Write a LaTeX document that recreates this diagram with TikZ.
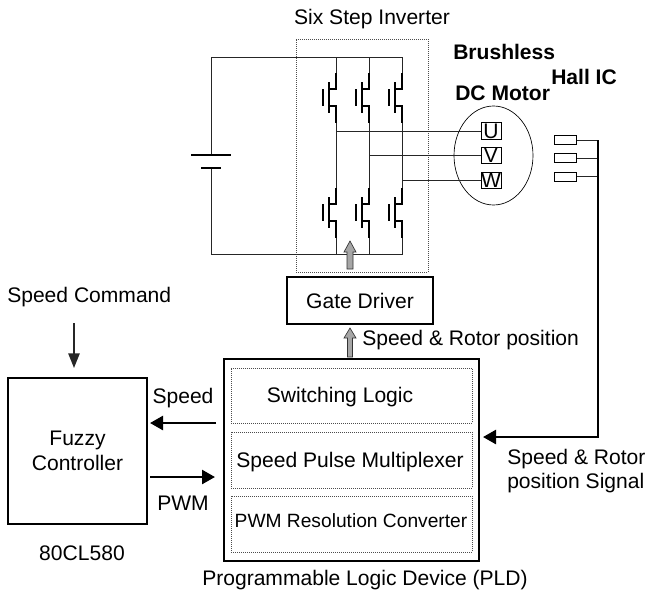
\documentclass[tikz,border=0pt]{standalone}
\usepackage{fontspec}
\setmainfont{Liberation Sans}
\usetikzlibrary{arrows}
\usetikzlibrary{arrows.meta}
\usetikzlibrary{positioning}
\usetikzlibrary{shapes.geometric}
\begin{document}
\begin{tikzpicture}[
		x=0.75pt,
		y=-0.75pt,
		>=stealth',
		wire/.style={line width=0.75pt,draw=black!85},
		main label/.style={font=\fontsize{15.8}{18}\selectfont,inner sep=0pt},
		bold label/.style={main label,font=\fontsize{15.8}{18}\selectfont\bfseries},
		solid box/.style={draw,line width=1.2pt,inner sep=0pt,align=center},
		dotted box/.style={draw=black!70,densely dotted,line width=0.5pt,inner sep=0pt},
		letter box/.style={draw,line width=0.75pt,minimum width=15pt,minimum height=12.5pt,inner sep=0pt,font=\fontsize{15.8}{18}\selectfont},
		hall box/.style={draw,line width=0.75pt,minimum width=16.5pt,minimum height=6.75pt,inner sep=0pt},
		thick arrow/.style={-{Triangle[length=9.75pt,width=10.5pt]},line width=1.9pt},
		switch line/.style={line width=1.5pt},
		gray arrow/.style={draw=black!80,fill=black!35,line width=0.5pt}
		]
		\useasboundingbox (0,0) rectangle (646,593);

		% boxes
		\node[dotted box,minimum width=99pt,minimum height=174.75pt] (inverter) at (362,155.5) {};
		\node[solid box,minimum width=109.5pt,minimum height=35.25pt,font=\fontsize{15.8}{18}\selectfont] (driver) at (360,300.5) {Gate Driver};
		\node[solid box,minimum width=191.25pt,minimum height=151.5pt] (pld) at (351.5,460) {};
		\node[solid box,minimum width=104.25pt,minimum height=109.5pt,font=\fontsize{15.8}{18.75}\selectfont] (fuzzy) at (77.5,451) {Fuzzy\\Controller};
		\node[dotted box,minimum width=180.75pt,minimum height=41.25pt] (logic) at (351.5,395.5) {};
		\node[dotted box,minimum width=180.75pt,minimum height=42pt] (mux) at (351.5,460) {};
		\node[dotted box,minimum width=180.75pt,minimum height=42pt] (conv) at (351.5,524) {};

		% texts
		\node[main label] (tinv) at (372,19) {Six Step Inverter};
		\node[bold label,anchor=west] (tbrush) at (453,52) {Brushless};
		\node[bold label,anchor=west] (thall) at (551,77) {Hall IC};
		\node[bold label,anchor=west] (tdc) at (455,93) {DC Motor};
		\node[main label,anchor=west] (tcmd) at (7,297) {Speed Command};
		\node[main label] (tchip) at (82,553) {80CL580};
		\node[main label] (tspeed) at (183,398) {Speed};
		\node[main label] (tpwm) at (183,503) {PWM};
		\node[main label] (tlogic) at (340,397) {Switching Logic};
		\node[main label] (tmux) at (350,462) {Speed Pulse Multiplexer};
		\node[main label,font=\fontsize{14.4}{18}\selectfont] (tconv) at (351,521) {PWM Resolution Converter};
		\node[main label] (tpld) at (365,580) {Programmable Logic Device (PLD)};
		\node[main label,anchor=west] (tgate) at (362,340) {Speed \& Rotor position};
		\node[main label,anchor=west] (tsig1) at (507,459) {Speed \& Rotor};
		\node[main label,anchor=west] (tsig2) at (507,483) {position Signal};

		% supply
		\coordinate (tl) at (211,57);
		\coordinate (tr) at (402,57);
		\coordinate (bl) at (211,254);
		\coordinate (br) at (402,254);
		\coordinate (batp) at (211,155);
		\coordinate (batn) at (211,168);
		\draw[wire] (batp) -- (tl) -- (tr) -- (402,73);
		\draw[wire] (batn) -- (bl) -- (br) -- (402,238);
		\draw[line width=2pt] (191,155) -- (231,155);
		\draw[line width=2pt] (201,168) -- (221,168);

		% legs
		\foreach \colx in {336,369,402} {
			\draw[wire] (\colx,57) -- (\colx,73);
			\draw[wire] (\colx,123) -- (\colx,188);
			\draw[wire] (\colx,238) -- (\colx,254);
			\foreach \yoff in {0,115} {
				\draw[switch line] (\colx,73+\yoff) -- (\colx,89+\yoff) -- (\colx-7,89+\yoff);
				\draw[switch line] (\colx-7,82+\yoff) -- (\colx-7,113+\yoff);
				\draw[switch line] (\colx-7,106+\yoff) -- (\colx,106+\yoff) -- (\colx,123+\yoff);
				\draw[switch line] (\colx-13,89+\yoff) -- (\colx-13,106+\yoff);
			}
		}

		% motor
		\node[draw,ellipse,line width=0.5pt,minimum width=59.25pt,minimum height=74.25pt,inner sep=0pt] (motor) at (493.5,155.5) {};
		\node[letter box] (u) at (491,131) {U};
		\node[letter box] (v) at (491,155.5) {V};
		\node[letter box] (w) at (491,180.5) {W};
		\draw[wire] (336,131) -- (u.west);
		\draw[wire] (369,155.5) -- (v.west);
		\draw[wire] (402,180.5) -- (w.west);

		% hall sensors
		\node[hall box] (h1) at (565,140) {};
		\node[hall box] (h2) at (565,158) {};
		\node[hall box] (h3) at (565,176.5) {};
		\coordinate (bus) at (598,140);
		\coordinate (busend) at (598,437);
		\draw[wire] (h1.east) -- (bus);
		\draw[wire] (h2.east) -- (598,158);
		\draw[wire] (h3.east) -- (598,176.5);
		\draw[thick arrow] (bus) -- (busend) -- (483,437);

		% block arrows
		\draw[gray arrow] (347,269) -- (347,252) -- (344,252) -- (350,241) -- (356,252) -- (353,252) -- (353,269) -- cycle;
		\draw[gray arrow] (347.5,357) -- (347.5,338) -- (344,338) -- (350,328) -- (356,338) -- (352.5,338) -- (352.5,357) -- cycle;

		% signal arrows
		\coordinate (sp1) at (216,423);
		\coordinate (sp2) at (150,423);
		\coordinate (pw1) at (150,477);
		\coordinate (pw2) at (215,477);
		\coordinate (cmd1) at (74,323);
		\coordinate (cmd2) at (74,368);
		\draw[thick arrow] (sp1) -- (sp2);
		\draw[thick arrow] (pw1) -- (pw2);
		\draw[line width=1.2pt,draw=black!85,-{Triangle[length=11pt,width=8.5pt]}] (cmd1) -- (cmd2);
	\end{tikzpicture}
\end{document}
